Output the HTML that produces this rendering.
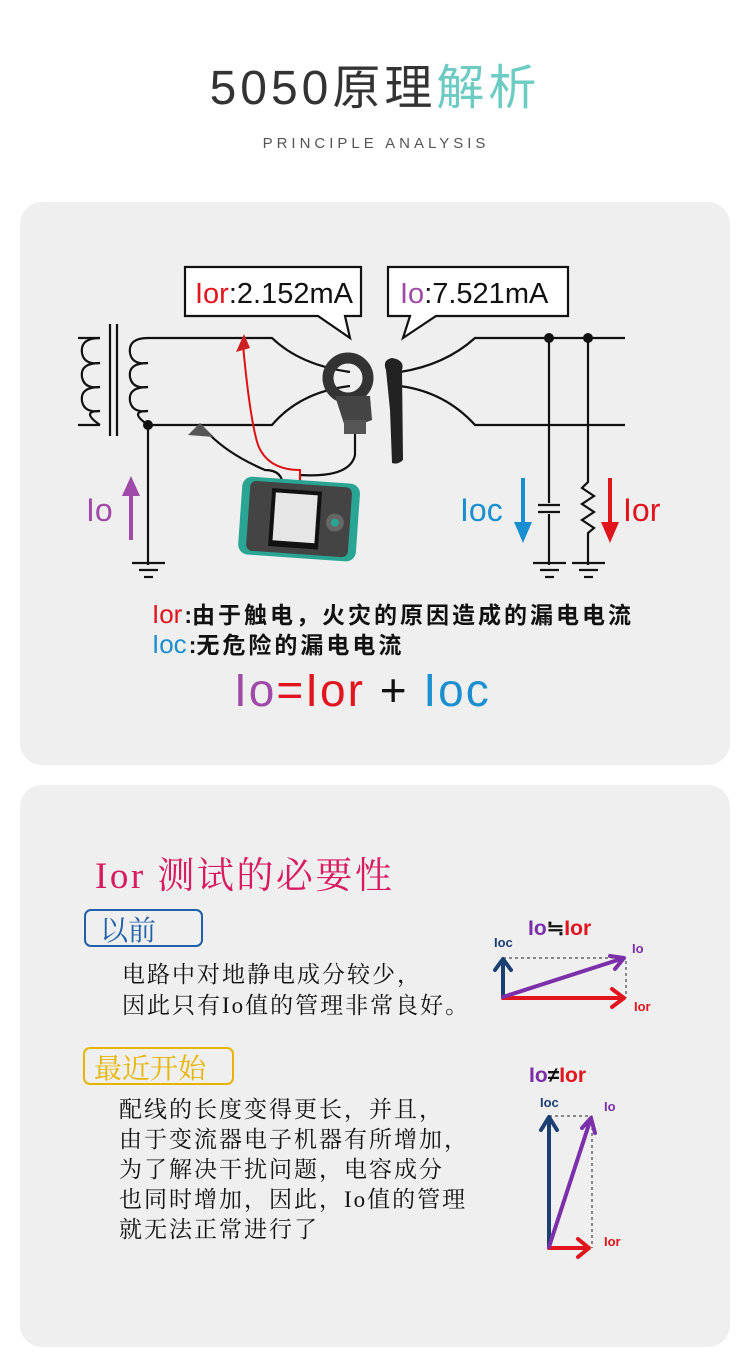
<!DOCTYPE html>
<html><head><meta charset="utf-8"><style>
body{margin:0;background:#fff;}
svg text{font-family:"Liberation Sans","Noto Sans CJK SC",sans-serif;}
.s{font-family:"Liberation Serif","Noto Serif CJK SC",serif !important;}
</style></head><body>
<svg width="750" height="1365" viewBox="0 0 750 1365" xmlns="http://www.w3.org/2000/svg">
<rect width="750" height="1365" fill="#fff"/>
<text x="375" y="104" text-anchor="middle" font-size="48" fill="#333" letter-spacing="4">5050原理<tspan fill="#6ccbc2">解析</tspan></text>
<text x="376" y="148" text-anchor="middle" font-size="15" fill="#555" letter-spacing="4">PRINCIPLE ANALYSIS</text>

<rect x="20" y="202" width="710" height="563" rx="22" fill="#efefef"/>
<rect x="20" y="785" width="710" height="562" rx="22" fill="#efefef"/>

<g fill="none" stroke="#111" stroke-width="2.2">
<path d="M185 267 H361 V316 H345 L350 338 L318 316 H185 Z" fill="#fff"/>
<path d="M388 267 H568 V316 H436 L403 338 L410 316 H388 Z" fill="#fff"/>
<path d="M78 338 H100 M78 425 H100"/>
<path d="M100 338 q-20 0 -18 15 q2 12 18 10 q-20 0 -18 14 q2 12 18 10 q-20 0 -18 14 q2 12 18 10 q-20 0 0 14" />
<line x1="110" y1="324" x2="110" y2="436"/><line x1="117" y1="324" x2="117" y2="436"/>
<path d="M148 338 q-20 0 -18 15 q2 12 18 10 q-20 0 -18 14 q2 12 18 10 q-20 0 -18 14 q2 12 18 10 q-20 0 0 14"/>
<path d="M148 338 H272 Q300 365 350 372 M400 372 Q445 365 475 338 H625"/>
<path d="M148 425 H272 Q300 392 350 386 M400 386 Q445 392 475 425 H625"/>
<line x1="148" y1="425" x2="148" y2="565"/>
<line x1="132" y1="563" x2="165" y2="563"/><line x1="139" y1="570" x2="158" y2="570"/><line x1="144" y1="577" x2="153" y2="577"/>
<line x1="549" y1="338" x2="549" y2="503"/><line x1="538" y1="505" x2="560" y2="505"/><line x1="538" y1="512" x2="560" y2="512"/><line x1="549" y1="514" x2="549" y2="565"/>
<line x1="533" y1="563" x2="566" y2="563"/><line x1="540" y1="570" x2="559" y2="570"/><line x1="545" y1="577" x2="554" y2="577"/>
<path d="M588 338 V482 l-6 6 l12 8 l-12 8 l12 8 l-12 8 l12 8 l-6 5 V565"/>
<line x1="572" y1="563" x2="605" y2="563"/><line x1="579" y1="570" x2="598" y2="570"/><line x1="584" y1="577" x2="593" y2="577"/>
<path d="M355 430 V455 Q350 478 300 475 V485"/>
<path d="M210 435 Q230 455 265 470 Q283 470 283 487"/>
</g>
<path d="M243 345 Q250 420 258 445 Q268 470 300 470 V485" fill="none" stroke="#d11" stroke-width="2"/>
<path d="M236 352 l8 -18 l6 14 z" fill="#c22"/>
<path d="M188 435 l12 -12 l14 14 z" fill="#555"/>
<circle cx="148" cy="425" r="5" fill="#111"/><circle cx="549" cy="338" r="5" fill="#111"/><circle cx="588" cy="338" r="5" fill="#111"/>
<circle cx="348" cy="378" r="20" fill="none" stroke="#333" stroke-width="11"/>
<path d="M335 396 L370 396 L372 420 L346 430 Z" fill="#444"/>
<rect x="344" y="420" width="22" height="14" fill="#555"/>
<path d="M386 370 Q382 360 392 358 Q405 360 402 370 L403 460 Q398 465 392 463 L390 410 Z" fill="#222"/>
<g transform="rotate(4 298 520)">
<rect x="240" y="480" width="118" height="78" rx="10" fill="#2aa594"/>
<rect x="248" y="484" width="102" height="70" rx="6" fill="#444"/>
<rect x="270" y="490" width="50" height="58" fill="#111"/>
<rect x="274" y="494" width="42" height="48" fill="#e6e6e6"/>
<circle cx="335" cy="520" r="9" fill="#666"/><circle cx="335" cy="520" r="4" fill="#2aa594"/>
</g>
<text x="195" y="303" font-size="29" fill="#e0151d">Ior<tspan fill="#111">:2.152mA</tspan></text>
<text x="400" y="303" font-size="29" fill="#a04aa8">Io<tspan fill="#111">:7.521mA</tspan></text>
<text x="86" y="521" font-size="32" fill="#a04aa8">Io</text>
<path d="M131 540 V490" stroke="#a04aa8" stroke-width="4"/><path d="M122 496 L131 476 L140 496 Z" fill="#a04aa8"/>
<text x="460" y="521" font-size="32" fill="#1a8fd0">Ioc</text>
<path d="M523 478 V528" stroke="#1a8fd0" stroke-width="4"/><path d="M514 522 L523 543 L532 522 Z" fill="#1a8fd0"/>
<path d="M610 478 V528" stroke="#e0151d" stroke-width="4"/><path d="M601 522 L610 543 L619 522 Z" fill="#e0151d"/>
<text x="623" y="521" font-size="32" fill="#e0151d">Ior</text>
<text x="152" y="623" font-size="23" font-weight="bold" fill="#111"><tspan fill="#e0151d" font-weight="normal" font-size="26">Ior</tspan><tspan dx="2">:</tspan><tspan letter-spacing="3">由于触电，火灾的原因造成的漏电电流</tspan></text>
<text x="152" y="653" font-size="23" font-weight="bold" fill="#111"><tspan fill="#1a8fd0" font-weight="normal" font-size="26">Ioc</tspan><tspan dx="2">:</tspan><tspan letter-spacing="3">无危险的漏电电流</tspan></text>
<text x="234" y="706" font-size="46" fill="#a04aa8" letter-spacing="2">Io<tspan fill="#e0151d">=Ior</tspan><tspan fill="#111"> + </tspan><tspan fill="#1a8fd0">Ioc</tspan></text>

<text class="s" x="95" y="888" font-size="37" fill="#d81b60" letter-spacing="2.5">Ior 测试的必要性</text>
<rect x="85" y="910" width="117" height="36" rx="6" fill="none" stroke="#2060a8" stroke-width="2"/>
<text class="s" x="100" y="940" font-size="28" fill="#2060a8">以前</text>
<rect x="84" y="1048" width="149" height="36" rx="6" fill="none" stroke="#e8b400" stroke-width="2"/>
<text class="s" x="94" y="1078" font-size="28" fill="#e8b400">最近开始</text>
<g font-size="23" fill="#111" letter-spacing="2">
<text class="s" x="122" y="982">电路中对地静电成分较少，</text>
<text class="s" x="122" y="1013">因此只有Io值的管理非常良好。</text>
<text class="s" x="119" y="1117">配线的长度变得更长，并且，</text>
<text class="s" x="119" y="1147">由于变流器电子机器有所增加，</text>
<text class="s" x="119" y="1177">为了解决干扰问题，电容成分</text>
<text class="s" x="119" y="1207">也同时增加，因此，Io值的管理</text>
<text class="s" x="119" y="1237">就无法正常进行了</text>
</g>
<text x="528" y="935" font-size="21" font-weight="bold" fill="#7b2fa8">Io<tspan fill="#111">≒</tspan><tspan fill="#e0151d">Ior</tspan></text>
<text x="494" y="947" font-size="13" font-weight="bold" fill="#1c3f73">Ioc</text>
<text x="632" y="953" font-size="13" font-weight="bold" fill="#7b2fa8">Io</text>
<text x="634" y="1011" font-size="13" font-weight="bold" fill="#e0151d">Ior</text>
<path d="M503 958 H626 V998" stroke="#222" stroke-dasharray="3 3" fill="none"/>
<g fill="none" stroke-width="4" stroke-linecap="round" stroke-linejoin="round">
<path d="M503 998 V960 M495 970 L503 959 L511 970" stroke="#1c3f73"/>
<path d="M503 998 H624 M612 989 L624 998 L612 1007" stroke="#e0151d"/>
<path d="M503 997 L624 958 M610 956 L624 958 L615 969" stroke="#7b2fa8"/>
</g>
<text x="529" y="1082" font-size="21" font-weight="bold" fill="#7b2fa8">Io<tspan fill="#111">≠</tspan><tspan fill="#e0151d">Ior</tspan></text>
<text x="540" y="1107" font-size="13" font-weight="bold" fill="#1c3f73">Ioc</text>
<text x="604" y="1111" font-size="13" font-weight="bold" fill="#7b2fa8">Io</text>
<text x="604" y="1246" font-size="13" font-weight="bold" fill="#e0151d">Ior</text>
<path d="M549 1116 H592 V1248" stroke="#222" stroke-dasharray="3 3" fill="none"/>
<g fill="none" stroke-width="4" stroke-linecap="round" stroke-linejoin="round">
<path d="M549 1248 V1118 M541 1130 L549 1117 L557 1130" stroke="#1c3f73"/>
<path d="M549 1248 H589 M578 1239 L589 1248 L578 1257" stroke="#e0151d"/>
<path d="M549 1247 L591 1118 M582 1128 L591 1118 L595 1133" stroke="#7b2fa8"/>
</g>
</svg>
</body></html>
